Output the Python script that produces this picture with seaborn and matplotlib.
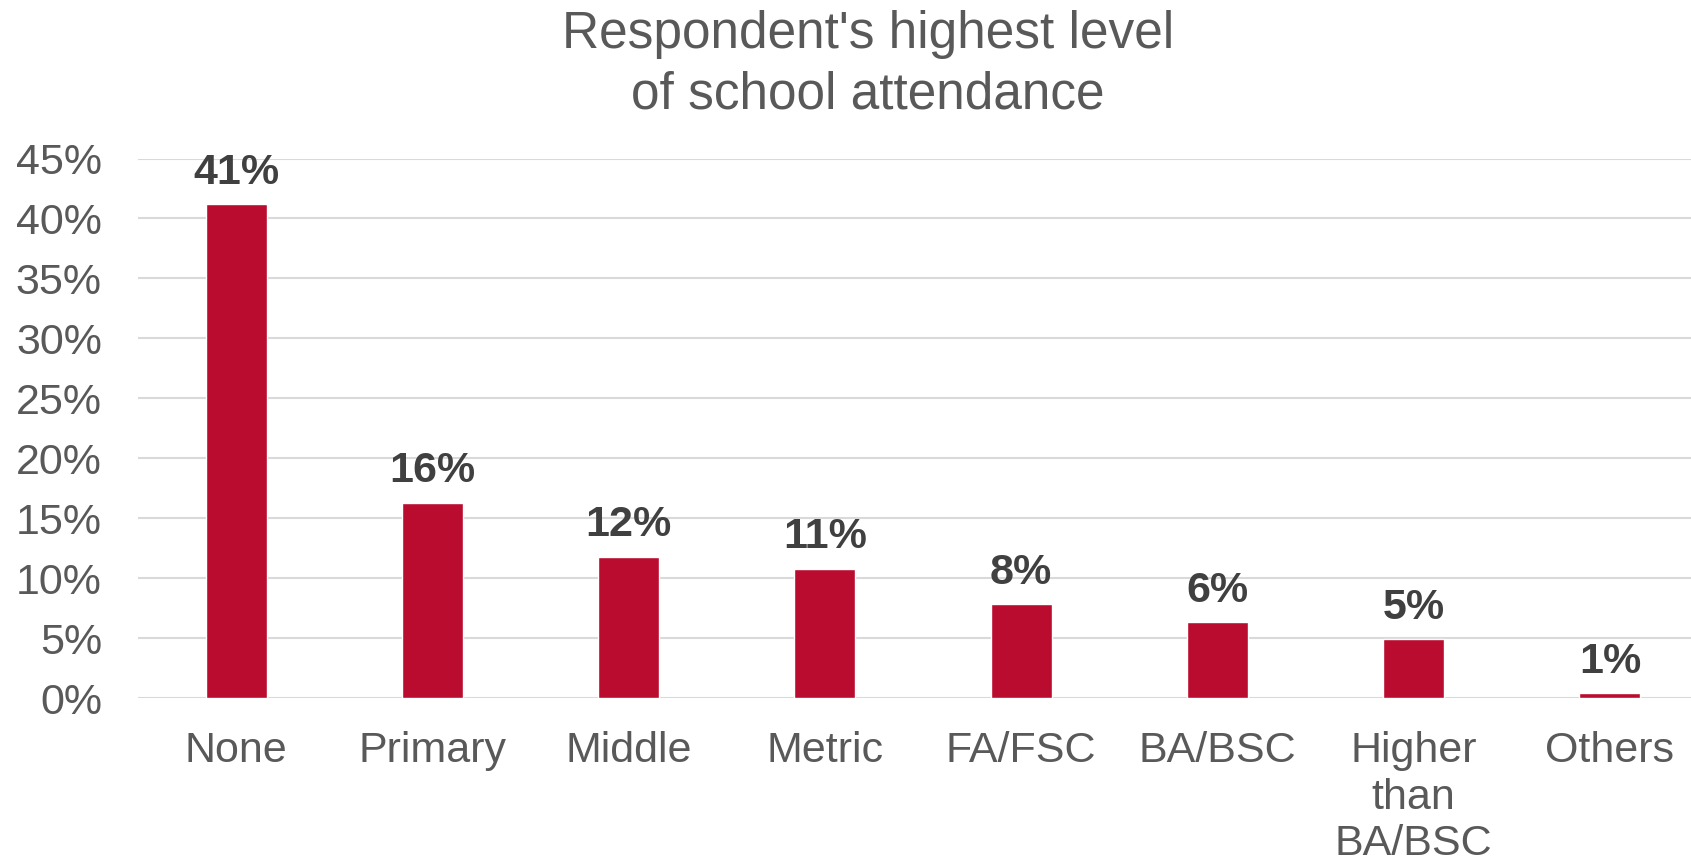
import matplotlib
matplotlib.use("Agg")
import matplotlib.pyplot as plt
import seaborn as sns
import pandas as pd

categories = ["None", "Primary", "Middle", "Metric", "FA/FSC", "BA/BSC", "Higher\nthan\nBA/BSC", "Others"]
values = [41.2, 16.3, 11.8, 10.8, 7.8, 6.3, 4.9, 0.4]
labels = ["41%", "16%", "12%", "11%", "8%", "6%", "5%", "1%"]
yticks = [0, 5, 10, 15, 20, 25, 30, 35, 40, 45]

sns.set_theme(style="white")
plt.rcParams["font.family"] = ["Liberation Sans", "DejaVu Sans"]

df = pd.DataFrame({"cat": categories, "val": values})

fig = plt.figure(figsize=(16.91, 8.64), dpi=100)
ax = fig.add_axes([138 / 1691, 1 - 698 / 864, 1570 / 1691, (698 - 158.5) / 864])

sns.barplot(data=df, x="cat", y="val", color="#BA0C2F", width=0.31, ax=ax, saturation=1)

ax.set_ylim(0, 45)
ax.set_yticks(yticks)
ax.set_yticklabels([f"{t}%" for t in yticks])
ax.grid(axis="y", color="#D9D9D9", linewidth=1.5)
ax.set_axisbelow(True)
for s in ax.spines.values():
    s.set_visible(False)
ax.set_xlabel("")
ax.set_ylabel("")
ax.tick_params(axis="y", labelsize=31, colors="#595959", pad=26, length=0)
ax.tick_params(axis="x", labelsize=31, colors="#595959", pad=24, length=0)
for t in ax.get_xticklabels():
    t.set_linespacing(1.2)
    t.set_verticalalignment("top")

for i, (v, lab) in enumerate(zip(values, labels)):
    ax.annotate(lab, xy=(i, v), xytext=(0, 8), textcoords="offset points",
                ha="center", va="bottom", fontsize=31, fontweight="bold", color="#404040")

fig.text(868 / 1691, 1 - 65 / 864, "Respondent's highest level\nof school attendance",
         ha="center", va="center", fontsize=37, color="#595959", linespacing=1.3)

fig.savefig("out.png", dpi=100)
